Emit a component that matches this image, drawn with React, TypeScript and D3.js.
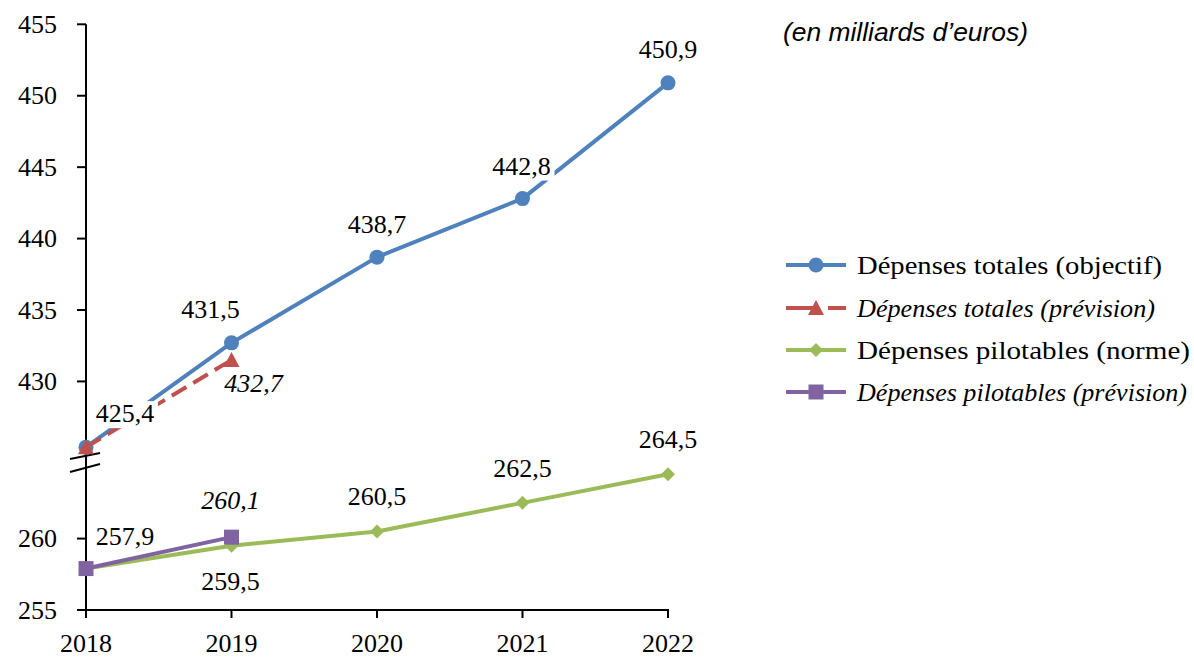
import React from "react";
import * as d3 from "d3";

const years = ["2018", "2019", "2020", "2021", "2022"];
const totalObjectif = [425.4, 432.7, 438.7, 442.8, 450.9];
const totalPrevision = [425.4, 431.5];
const pilotablesNorme = [257.9, 259.5, 260.5, 262.5, 264.5];
const pilotablesPrevision = [257.9, 260.1];

const totalObjectifLabels = ["425,4", "431,5", "438,7", "442,8", "450,9"];
const totalPrevisionLabels = [null, "432,7"];
const pilotablesNormeLabels = ["257,9", "259,5", "260,5", "262,5", "264,5"];
const pilotablesPrevisionLabels = [null, "260,1"];

const upperTicks = [430, 435, 440, 445, 450, 455];
const lowerTicks = [255, 260];

const legendNames = [
  "Dépenses totales (objectif)",
  "Dépenses totales (prévision)",
  "Dépenses pilotables (norme)",
  "Dépenses pilotables (prévision)",
];
const unitLabel = "(en milliards d\u2019euros)";

// layout (label offsets relative to their point: [dx, baseline dy])
const offTotalObj = [[39, -25], [-21, -25], [0, -24], [-1, -24], [0, -25]];
const offTotalPrev = [[0, 0], [22, 32]];
const offNorme = [[39, -24], [-1, 44], [0, -26], [0, -26], [0, -26]];
const offPilPrev = [[0, 0], [-1, -28]];
const legendWidths = [305, 298, 333, 330];

const W = 1194;
const H = 658;
const FONT = "'Liberation Serif', 'Times New Roman', serif";
const FS = 26;

const BLUE = "#4F81BD";
const RED = "#C0504D";
const GREEN = "#9BBB59";
const PURPLE = "#8064A2";

// broken axis: lower segment 255..265, upper segment 425..455
const toV = (v: number) => (v > 300 ? v - 414 : v - 255);

export default function App() {
  const x = d3.scalePoint<string>().domain(years).range([86, 668]);
  const yS = d3.scaleLinear().domain([0, 41]).range([610, 24.3]);
  const y = (v: number) => yS(toV(v));
  const line = d3
    .line<[string, number]>()
    .x((d) => x(d[0]) as number)
    .y((d) => y(d[1]));

  const series = [
    { vals: totalObjectif, labels: totalObjectifLabels, off: offTotalObj, color: BLUE, marker: "circle", dash: undefined, italic: false },
    { vals: totalPrevision, labels: totalPrevisionLabels, off: offTotalPrev, color: RED, marker: "triangle", dash: "17,8", italic: true },
    { vals: pilotablesNorme, labels: pilotablesNormeLabels, off: offNorme, color: GREEN, marker: "diamond", dash: undefined, italic: false },
    { vals: pilotablesPrevision, labels: pilotablesPrevisionLabels, off: offPilPrev, color: PURPLE, marker: "square", dash: undefined, italic: true },
  ];

  const marker = (type: string, cx: number, cy: number, color: string, key: string) => {
    if (type === "circle") return <circle key={key} cx={cx} cy={cy} r={7.5} fill={color} />;
    if (type === "triangle")
      return <path key={key} d={`M${cx},${cy - 8} L${cx + 8},${cy + 7} L${cx - 8},${cy + 7} Z`} fill={color} />;
    if (type === "diamond")
      return <path key={key} d={`M${cx},${cy - 7} L${cx + 7},${cy} L${cx},${cy + 7} L${cx - 7},${cy} Z`} fill={color} />;
    return <rect key={key} x={cx - 7.5} y={cy - 7.5} width={15} height={15} fill={color} />;
  };

  const legendY = [265, 308, 350, 392];

  return (
    <svg width={W} height={H} style={{ position: "absolute", left: 0, top: 0, background: "#fff" }} fontFamily={FONT}>
      {/* axes */}
      <line x1={86} x2={86} y1={yS(41)} y2={610} stroke="#000" strokeWidth={2} />
      <line x1={85} x2={669} y1={610} y2={610} stroke="#000" strokeWidth={2} />
      {[...lowerTicks, ...upperTicks].map((t) => (
        <g key={"yt" + t}>
          <line x1={77} x2={86} y1={y(t)} y2={y(t)} stroke="#000" strokeWidth={2} />
          <text x={57} y={y(t) + 8.5} textAnchor="end" fontSize={FS} fill="#000">
            {t}
          </text>
        </g>
      ))}
      {years.map((yr) => (
        <g key={"xt" + yr}>
          <line x1={x(yr)} x2={x(yr)} y1={610} y2={618} stroke="#000" strokeWidth={2} />
          <text x={x(yr)} y={652} textAnchor="middle" fontSize={FS} fill="#000">
            {yr}
          </text>
        </g>
      ))}
      {/* axis break */}
      <path d="M70,459 L100,453 L100,464 L70,472 Z" fill="#fff" stroke="none" />
      <line x1={86} x2={86} y1={450} y2={475} stroke="#000" strokeWidth={2} />
      <line x1={70} x2={100} y1={459} y2={453} stroke="#000" strokeWidth={2} />
      <line x1={70} x2={100} y1={472} y2={464} stroke="#000" strokeWidth={2} />

      {/* series */}
      {series.map((s, i) => (
        <g key={"s" + i}>
          <path
            d={line(s.vals.map((v, j) => [years[j], v] as [string, number])) || ""}
            fill="none"
            stroke={s.color}
            strokeWidth={4}
            strokeDasharray={s.dash}
            strokeLinejoin="round"
          />
          {s.vals.map((v, j) => marker(s.marker, x(years[j]) as number, y(v), s.color, "m" + i + "-" + j))}
        </g>
      ))}

      {/* data labels */}
      {series.map((s, i) =>
        s.vals.map((v, j) => {
          const lab = s.labels[j];
          if (!lab) return null;
          const cx = (x(years[j]) as number) + s.off[j][0];
          const by = y(v) + s.off[j][1];
          return (
            <g key={"l" + i + "-" + j}>
              <rect x={cx - 33} y={by - 21} width={66} height={27} fill="#fff" />
              <text x={cx} y={by} textAnchor="middle" fontSize={FS} fill="#000" fontStyle={s.italic ? "italic" : "normal"}>
                {lab}
              </text>
            </g>
          );
        })
      )}

      {/* units */}
      <text x={783} y={41} fontSize={26} fontStyle="italic" fontFamily="'Liberation Sans', Arial, sans-serif" fill="#000" textLength={245} lengthAdjust="spacingAndGlyphs">
        {unitLabel}
      </text>

      {/* legend */}
      {series.map((s, i) => (
        <g key={"lg" + i}>
          <line x1={786} x2={846} y1={legendY[i]} y2={legendY[i]} stroke={s.color} strokeWidth={4} strokeDasharray={s.dash ? "28,14,20" : undefined} />
          {marker(s.marker, 816, legendY[i], s.color, "lm" + i)}
          <text x={857} y={legendY[i] + 8.5} fontSize={FS} fill="#000" fontStyle={s.italic ? "italic" : "normal"} textLength={legendWidths[i]} lengthAdjust="spacingAndGlyphs">
            {legendNames[i]}
          </text>
        </g>
      ))}
    </svg>
  );
}
